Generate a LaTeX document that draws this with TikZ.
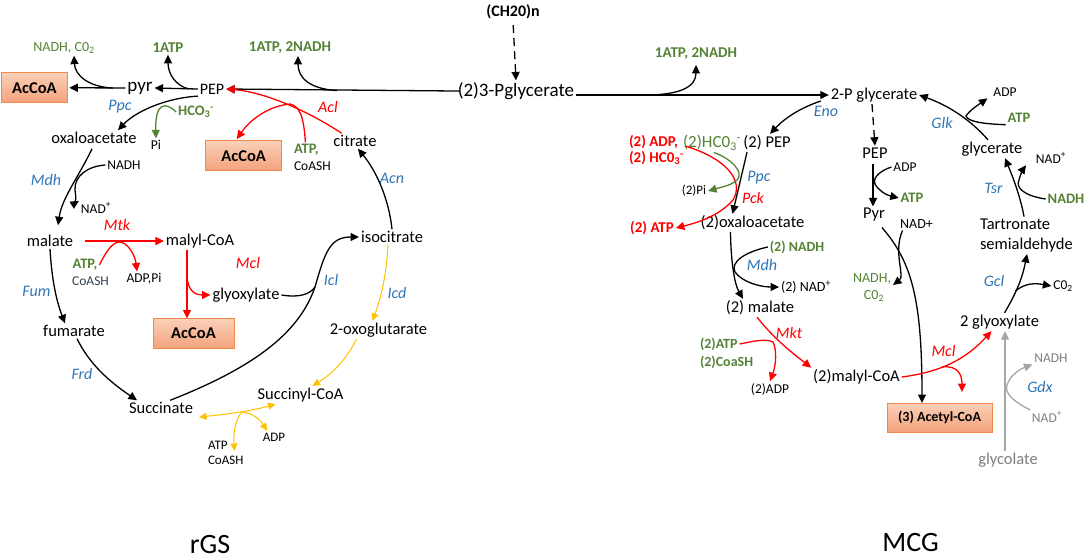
\documentclass[tikz,border=0pt]{standalone}
\usepackage{fontspec}
\setmainfont{Carlito}
\usetikzlibrary{arrows.meta}
\definecolor{grn}{HTML}{548235}
\definecolor{blu}{HTML}{2E75B6}
\definecolor{rd}{HTML}{FF0000}
\definecolor{yel}{HTML}{FFC000}
\definecolor{gry}{HTML}{A6A6A6}
\definecolor{gtx}{HTML}{7F7F7F}
\definecolor{slate}{HTML}{333F50}
\definecolor{boxtop}{HTML}{FAD0B8}
\definecolor{boxbot}{HTML}{F4A27C}
\definecolor{boxdraw}{HTML}{F08A4B}
\newcommand\fsz[2]{\fontsize{#1}{#2}\selectfont}
\begin{document}
\begin{tikzpicture}[x=1pt,y=-1pt,
  every node/.style={inner sep=0pt,outer sep=2pt},
  met/.style={font=\fsz{16.5}{19}},
  bigmet/.style={font=\fsz{19}{22}},
  sm/.style={font=\fsz{13.5}{16}},
  enz/.style={font=\fsz{16}{19}\itshape,text=blu},
  renz/.style={font=\fsz{16}{19}\itshape,text=rd},
  cof/.style={font=\fsz{14.5}{17}\bfseries,text=grn},
  rcof/.style={font=\fsz{15}{18}\bfseries,text=rd},
  accbox/.style={draw=boxdraw,line width=0.9pt,top color=boxtop,bottom color=boxbot,font=\fsz{16.5}{19}\bfseries,minimum height=30pt,outer sep=0pt},
  bk/.style={line width=1.3pt,black,-{Triangle[length=8.5pt,width=8pt]}},
  bkl/.style={line width=1.3pt,black},
  rdar/.style={line width=1.3pt,rd,-{Triangle[length=8.5pt,width=8pt]}},
  rdl/.style={line width=1.3pt,rd},
  gnar/.style={line width=1.3pt,grn,-{Triangle[length=8.5pt,width=8pt]}},
  ylar/.style={line width=1pt,yel,-{Triangle[length=7.5pt,width=7pt]}},
  yldbl/.style={line width=1pt,yel,{Triangle[length=7.5pt,width=7pt]}-{Triangle[length=7.5pt,width=7pt]}},
  gyar/.style={line width=1.3pt,gry,-{Triangle[length=8.5pt,width=8pt]}},
  ttl/.style={font=\fsz{28}{32}},
]
\useasboundingbox (0,0) rectangle (1084,558);

% ---------------- left: rGS ----------------
\node[accbox,minimum width=65.6pt] (acc1) at (34.5,87.7) {AcCoA};
\node[bigmet] (pyr) at (140,88) {pyr};
\node[font=\fsz{16}{19}] (pep) at (212,89) {PEP};
\node[font=\fsz{14}{17},text=grn] (nadhco) at (64,48) {NADH, C0\textsubscript{2}};
\node[cof,font=\fsz{15}{18}\bfseries] (atpA) at (168,48) {1ATP};
\node[cof,font=\fsz{15}{18}\bfseries] (atpnA) at (290,48) {1ATP, 2NADH};
\node[bigmet] (pg3) at (516,91) {(2)3-Pglycerate};
\node[font=\fsz{16}{19}\bfseries] (ch2o) at (513,12) {(CH20)n};
\node[enz] (ppc) at (120,107) {Ppc};
\node[cof] (hco3) at (196,112) {HCO\textsubscript{3}\textsuperscript{-}};
\node[sm] (pi) at (156,145) {Pi};
\node[met] (oaa) at (94,138) {oxaloacetate};
\node[renz] (acl) at (328,107) {Acl};
\node[accbox,minimum width=76pt] (acc2) at (243.7,155.7) {AcCoA};
\node[cof,anchor=west] (atpL) at (292,150) {ATP,};
\node[sm,anchor=west] (coashL) at (292,166) {CoASH};
\node[met] (citrate) at (355,141) {citrate};
\node[enz] (acn) at (392,178) {Acn};
\node[sm] (nadhL) at (124,165) {NADH};
\node[enz] (mdhL) at (46,180) {Mdh};
\node[sm] (nadL) at (96,208) {NAD\textsuperscript{+}};
\node[met] (malate) at (50,241) {malate};
\node[renz] (mtk) at (117,225) {Mtk};
\node[met] (malyl) at (200,241) {malyl-CoA};
\node[cof] (atpM) at (85,265) {ATP,};
\node[sm,text=slate] (coashM) at (90.5,281) {CoASH};
\node[sm] (adppi) at (144,279) {ADP,Pi};
\node[renz] (mclL) at (248,263) {Mcl};
\node[met] (glyox) at (246,295) {glyoxylate};
\node[accbox,minimum width=81pt] (acc3) at (193.5,333.5) {AcCoA};
\node[enz] (fum) at (36.5,291) {Fum};
\node[met] (fumarate) at (74,331) {fumarate};
\node[enz] (frd) at (82,374) {Frd};
\node[met] (succ) at (161,408) {Succinate};
\node[enz] (icl) at (331,280) {Icl};
\node[met] (isocit) at (392,237) {isocitrate};
\node[enz] (icd) at (397,293) {Icd};
\node[met] (oxog) at (378.5,330) {2-oxoglutarate};
\node[met] (succcoa) at (300.5,395) {Succinyl-CoA};
\node[font=\fsz{13}{15},anchor=west] (atpY) at (206,445) {ATP};
\node[font=\fsz{13}{15},anchor=west] (coashY) at (206,460) {CoASH};
\node[font=\fsz{13}{15}] (adpY) at (274,437) {ADP};
\node[ttl] (rgs) at (210,544) {rGS};

% connectors left
\draw[bk,shorten >=2pt] (pyr.west) -- (acc1.east);
\coordinate (b1) at (113,88);
\draw[bk] (b1) .. controls (88,87) and (75,75) .. ([xshift=10pt]nadhco.south);
\draw[bk] (pep.west) -- (pyr.east);
\coordinate (b2) at (189,89);
\draw[bk] (b2) .. controls (176,86) and (168,74) .. (atpA.south);
\draw[bk,shorten <=-4pt] (pg3.west) -- (pep.east);
\coordinate (b3) at (337,90.5);
\draw[bk] (b3) .. controls (310,89) and (298,78) .. ([xshift=8pt]atpnA.south);
\draw[rdar] (citrate.150) .. controls (310,112) and (265,92) .. (pep.east);
\coordinate (br) at (290,104);
\draw[rdl] ([xshift=-1pt]atpL.north) .. controls (304,118) and (300,106) .. (br);
\draw[rdar,shorten >=2pt] (br) .. controls (268,106) and (250,120) .. ([xshift=-8pt]acc2.north);
\draw[bk] (pep.south west) .. controls (165,98) and (135,112) .. ([xshift=24pt]oaa.north);
\draw[gnar] (hco3.west) .. controls (165,101) and (155,103) .. (pi.north);
\draw[bk] ([yshift=-3pt,xshift=-2pt]oaa.south) .. controls (78,178) and (62,198) .. ([shift={(8pt,8pt)}]malate.north);
\draw[bk] (nadhL.west) .. controls (88,166) and (74,176) .. (75,190) .. controls (76,198) and (77,202) .. (nadL.north west);
\draw[rdar,shorten <=10pt] (malate.east) -- (malyl.west);
\draw[rdar] (atpM.east) .. controls (106,252) and (112,242) .. (120,242) .. controls (128,243) and (135,255) .. ([xshift=-7pt]adppi.north);
\draw[rdar] ([xshift=-13pt]malyl.south) -- ([xshift=-6.5pt]acc3.north);
\coordinate (bm) at (187,276);
\draw[rdar] (bm) .. controls (188,292) and (196,295) .. (glyox.west);
\draw[bk] (malate.south) .. controls (52,285) and (58,305) .. ([xshift=-9pt]fumarate.north);
\draw[bk] ([xshift=3pt]fumarate.south) .. controls (90,365) and (110,382) .. ([xshift=-24pt]succ.north);
\coordinate (jn) at (315,287);
\draw[bk] (succ.40) .. controls (260,365) and (300,330) .. (jn) .. controls (325,252) and (330,237) .. (isocit.west);
\draw[bkl] (glyox.east) .. controls (300,298) and (310,294) .. (jn);
\draw[bk] (isocit.north) .. controls (389,200) and (377,172) .. ([xshift=3pt]citrate.south);
\draw[ylar] ([xshift=-4pt]isocit.south) .. controls (386,280) and (380,300) .. ([xshift=-6pt]oxog.north);
\draw[ylar] ([xshift=-22pt]oxog.south) .. controls (345,362) and (330,375) .. ([xshift=12pt]succcoa.north);
\draw[yldbl] ([shift={(4pt,-9pt)}]succ.east) .. controls (230,414) and (255,410) .. ([xshift=-25pt]succcoa.south);
\coordinate (by) at (242,412);
\draw[ylar] (by) .. controls (236,418) and (233,432) .. ([shift={(5pt,-6pt)}]atpY.east);
\draw[ylar] (by) .. controls (252,413) and (260,419) .. ([xshift=-7pt]adpY.north);
\draw[bk,dash pattern=on 8pt off 5pt,shorten <=4pt] (ch2o.south) -- (pg3.north);

% ---------------- right: MCG ----------------
\node[met] (pg2) at (874,95) {2-P glycerate};
\node[cof,font=\fsz{15}{18}\bfseries] (atpnB) at (696,54) {1ATP, 2NADH};
\node[enz] (eno) at (826,111) {Eno};
\node[rcof,anchor=west] (adp2) at (627,142) {(2) ADP,};
\node[rcof,anchor=west] (hco3R) at (627,158) {(2) HC0\textsubscript{3}\textsuperscript{-}};
\node[font=\fsz{17}{19},text=grn] (hco3B) at (712,143) {(2)HC0\textsubscript{3}\textsuperscript{-}};
\node[met] (pep2) at (767,143) {(2) PEP};
\node[enz] (ppc2) at (759,178) {Ppc};
\node[font=\fsz{13}{15}] (pi2) at (694,191) {(2)Pi};
\node[renz] (pck) at (753,198) {Pck};
\node[rcof] (atp2) at (652,228) {(2) ATP};
\node[met] (oaa2) at (752.5,223) {(2)oxaloacetate};
\node[cof,font=\fsz{14}{17}\bfseries] (nadh2) at (797,247) {(2) NADH};
\node[enz] (mdh2) at (762,265) {Mdh};
\node[font=\fsz{14}{17}] (nad2) at (806,287) {(2) NAD\textsuperscript{+}};
\node[met] (malate2) at (760,308) {(2) malate};
\node[renz] (mkt) at (789,333) {Mkt};
\node[cof,font=\fsz{14}{17}\bfseries,anchor=west] (atpB) at (698,344) {(2)ATP};
\node[cof,font=\fsz{14}{17}\bfseries,anchor=west] (coashB) at (698,362) {(2)CoaSH};
\node[font=\fsz{13.5}{16}] (adp2b) at (770,389) {(2)ADP};
\node[met] (malyl2) at (856.5,377) {(2)malyl-CoA};
\node[accbox,minimum width=105pt,minimum height=29pt,font=\fsz{14}{17}\bfseries] (acc4) at (939.5,417.5) {(3) Acetyl-CoA};
\node[renz] (mcl2) at (943.5,351) {Mcl};
\node[met] (glyox2) at (999.5,322) {2 glyoxylate};
\node[enz] (gcl) at (994,281) {Gcl};
\node[font=\fsz{13.5}{16}] (co2R) at (1063,286) {C0\textsubscript{2}};
\node[met,anchor=west] (tart) at (978,224) {Tartronate};
\node[met,anchor=west] (semi) at (978,245) {semialdehyde};
\node[font=\fsz{14}{17},text=grn] (nadhR) at (872,279) {NADH,};
\node[font=\fsz{14}{17},text=grn] (co2G) at (874,296) {C0\textsubscript{2}};
\node[met] (glycerate) at (992,149) {glycerate};
\node[enz] (glk) at (942,123) {Glk};
\node[font=\fsz{13.5}{16}] (adpG) at (1005,92) {ADP};
\node[cof] (atpG) at (1019,118) {ATP};
\node[font=\fsz{13.5}{16}] (nadT) at (1051,158) {NAD\textsuperscript{+}};
\node[enz] (tsr) at (993.5,188) {Tsr};
\node[cof] (nadhT) at (1066,199) {NADH};
\node[met] (pepR) at (875,153) {PEP};
\node[font=\fsz{13.5}{16}] (adpR) at (905,167) {ADP};
\node[cof] (atpR) at (912,198) {ATP};
\node[met] (pyrR) at (874,215) {Pyr};
\node[font=\fsz{14}{17}] (nadp) at (916.5,224) {NAD+};
\node[enz] (gdx) at (1040,387) {Gdx};
\node[font=\fsz{13.5}{16},text=gtx] (nadhG) at (1051,358) {NADH};
\node[font=\fsz{13.5}{16},text=gtx] (nadG) at (1047,417) {NAD\textsuperscript{+}};
\node[met,text=gtx] (glycolate) at (1008,460) {glycolate};
\node[ttl] (mcg) at (910.5,542) {MCG};

% connectors right
\draw[bk] (pg3.east |- pg2.west) -- (pg2.west);
\coordinate (b16) at (645,95);
\draw[bk] (b16) .. controls (680,95) and (696,87) .. ([yshift=-3pt]atpnB.south);
\draw[bk] ([shift={(-8pt,-6pt)}]pg2.west) .. controls (800,108) and (785,118) .. ([xshift=3pt]pep2.north);
\draw[bk,dash pattern=on 8pt off 5pt] ([xshift=-2pt]pg2.south) -- (pepR.north);
\draw[bk,shorten <=4pt] ([xshift=-2pt]pepR.south) -- ([xshift=-1pt]pyrR.north);
\draw[bk] (adpR.west) .. controls (882,170) and (872,177) .. (875,184) .. controls (878,190) and (886,195) .. (atpR.west);
\draw[bk] ([xshift=8pt,yshift=-4pt]pyrR.south) .. controls (912,262) and (922,300) .. ([xshift=-17.5pt]acc4.north);
\draw[bk] ([xshift=-14pt]nadp.south) .. controls (893,252) and (905,276) .. ([yshift=-6pt]nadhR.east);
\draw[rdar] ([shift={(5pt,-4pt)}]adp2.east) .. controls (725,158) and (745,180) .. (733,200) .. controls (720,215) and (700,222) .. (atp2.east);
\draw[gnar] ([xshift=2pt]hco3B.south) .. controls (730,158) and (745,172) .. (737,180) .. controls (732,185) and (722,187) .. (pi2.east);
\draw[bk] ([xshift=-20pt]pep2.south) -- ([xshift=-20pt]oaa2.north);
\draw[bk] ([xshift=-22pt]oaa2.south) .. controls (731,265) and (735,285) .. ([xshift=-17pt]malate2.north);
\draw[bk] (nadh2.west) .. controls (745,252) and (730,262) .. (735,272) .. controls (742,282) and (760,287) .. (nad2.west);
\draw[rdar] ([xshift=-3pt]malate2.south) .. controls (775,340) and (795,355) .. (malyl2.north west);
\draw[rdar] (atpB.east) .. controls (750,342) and (765,338) .. (773,342) .. controls (777,350) and (776,365) .. (adp2b.north);
\draw[rdar] (malyl2.east) .. controls (940,372) and (965,360) .. ([xshift=-8pt]glyox2.south);
\coordinate (bmc) at (942,367);
\coordinate (mclend) at (962,392);
\draw[rdar] (bmc) .. controls (958,365) and (962,375) .. (mclend);
\coordinate (bg) at (1015.5,291);
\draw[bk] ([xshift=5pt]glyox2.north) .. controls (1015,295) and (1022,280) .. ([xshift=49pt]semi.south west);
\draw[bk] (bg) .. controls (1025,283) and (1035,283) .. (co2R.west);
\draw[gyar] ([xshift=-3pt]glycolate.north) -- ([xshift=5.5pt]glyox2.south);
\draw[gyar] (nadG.north west) .. controls (1014,402) and (1004,393) .. (1007,385) .. controls (1010,376) and (1018,370) .. (nadhG.south west);
\draw[bk] ([xshift=-4pt]glycerate.north) .. controls (975,125) and (955,108) .. (pg2.east);
\draw[bk] (atpG.south west) .. controls (985,124) and (968,122) .. (966,116) .. controls (970,110) and (978,105) .. ([xshift=-4pt]adpG.south west);
\draw[bk] ([xshift=9pt]tart.north) .. controls (1020,195) and (1012,175) .. ([xshift=13pt]glycerate.south);
\draw[bk] (nadhT.west) .. controls (1025,196) and (1015,188) .. (1019,180) .. controls (1021,172) and (1024,168) .. ([xshift=-8pt]nadT.south west);
\end{tikzpicture}
\end{document}
